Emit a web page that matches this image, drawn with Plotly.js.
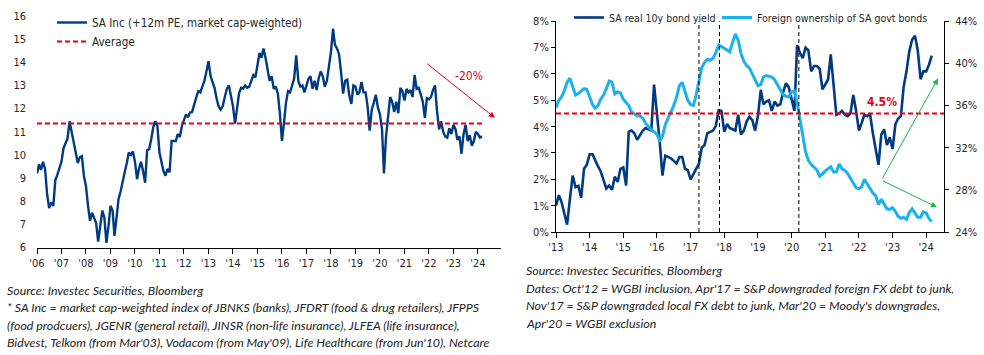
<!DOCTYPE html>
<html><head><meta charset="utf-8">
<script src="https://cdn.plot.ly/plotly-3.0.1.min.js"></script>
<style>html,body{margin:0;padding:0;background:#fff;}#chart{width:984px;height:355px;}</style>
</head><body><div id="chart"></div>
<script>
// ---------- DATA ----------
// Left chart: SA Inc 12m forward PE, monthly from Jan 2006
const peStartYear = 2006;
const peValues = [
  9.2, 9.6, 9.35, 9.7, 9.4, 8.3, 7.7, 7.95, 7.8, 8.9, 9.15, 9.45,          // 2006
  9.7, 10.3, 10.5, 10.7, 11.45, 11.0, 10.5, 10.2, 9.65, 9.9, 9.95, 9.1,    // 2007
  8.65, 7.8, 7.15, 7.5, 7.3, 7.05, 6.25, 6.95, 7.6, 7.3, 6.2, 6.9,         // 2008
  7.8, 7.6, 6.5, 7.3, 8.1, 8.43, 8.9, 9.25, 9.65, 10.1, 10.0, 10.15,       // 2009
  9.7, 8.95, 9.4, 9.7, 9.3, 8.8, 10.2, 10.25, 10.7, 11.2, 11.45, 11.25,    // 2010
  10.1, 9.6, 9.3, 9.1, 9.4, 9.25, 10.6, 10.6, 10.6, 10.9, 10.77, 11.25,    // 2011
  11.52, 11.75, 11.62, 11.84, 11.85, 12.2, 12.47, 12.75, 12.7, 12.95, 13.2, 13.6, // 2012
  14.05, 13.4, 13.15, 12.9, 12.45, 12.1, 11.95, 12.1, 12.5, 12.85, 13.0, 12.55,   // 2013
  12.1, 11.35, 12.1, 12.65, 12.9, 12.86, 13.0, 12.9, 12.95, 13.22, 13.45, 13.35,  // 2014
  13.9, 14.4, 14.2, 14.6, 14.2, 13.7, 13.2, 13.4, 12.85, 12.95, 12.65, 11.8,      // 2015
  10.6, 11.4, 12.25, 12.75, 12.7, 13.0, 13.3, 14.3, 13.2, 12.95, 13.0, 12.7,      // 2016
  13.05, 13.3, 13.4, 12.85, 13.2, 12.8, 13.3, 13.6, 13.4, 12.95, 13.2, 13.9,      // 2017
  14.45, 15.45, 14.75, 14.6, 14.35, 13.55, 12.65, 13.2, 13.25, 12.55, 12.2, 13.0, // 2018
  12.95, 12.6, 12.7, 13.15, 12.7, 12.7, 12.1, 11.05, 11.95, 12.25, 12.6, 12.05,   // 2019
  11.75, 11.1, 9.2, 10.8, 11.8, 12.5, 12.3, 11.85, 12.3, 11.8, 12.9, 12.75,       // 2020
  12.35, 12.85, 12.7, 12.8, 12.5, 13.45, 12.85, 12.9, 12.6, 12.3, 11.6, 12.45,    // 2021
  12.4, 12.5, 12.8, 13.0, 11.9, 11.1, 11.45, 11.0, 10.8, 10.75, 11.15, 10.9,      // 2022
  11.3, 11.1, 10.65, 10.8, 10.05, 10.9, 11.3, 10.6, 10.85, 10.4, 10.6, 11.0,      // 2023
  10.9, 10.75, 10.8                                                              // 2024
];
const peAverage = 11.36;
const leftYears = [2006,2007,2008,2009,2010,2011,2012,2013,2014,2015,2016,2017,2018,2019,2020,2021,2022,2023,2024];

// Right chart: monthly from Jan 2013
const bondStartYear = 2013;
const realYield = [
  1.0, 1.4, 1.15, 0.75, 0.28, 1.26, 2.14, 1.7, 1.75, 1.3, 2.4, 2.55,      // 2013
  2.95, 2.95, 2.7, 2.5, 2.3, 1.95, 1.65, 1.76, 1.6, 2.1, 1.9, 2.4,         // 2014
  2.45, 1.76, 3.8, 3.85, 3.75, 3.5, 3.7, 3.85, 3.95, 3.9, 3.85, 5.6,       // 2015
  4.6, 3.4, 2.14, 2.9, 2.85, 2.8, 2.7, 2.6, 2.85, 2.85, 2.4, 2.35,         // 2016
  2.0, 2.2, 2.35, 2.6, 3.2, 3.3, 3.75, 3.8, 3.85, 4.03, 4.62, 4.6,         // 2017
  3.8, 4.1, 3.95, 3.9, 3.85, 4.45, 3.7, 3.85, 4.2, 4.38, 4.25, 3.85,       // 2018
  4.4, 5.4, 4.85, 4.95, 5.0, 4.6, 4.95, 4.8, 4.85, 5.3, 5.65, 5.5,         // 2019
  5.1, 4.6, 7.1, 6.8, 6.6, 7.0, 6.9, 6.1, 6.3, 6.3, 6.2, 5.42,             // 2020
  5.6, 5.8, 6.74, 5.7, 4.45, 4.5, 4.6, 4.45, 4.4, 4.5, 5.2, 4.6,           // 2021
  3.85, 4.15, 4.45, 4.4, 4.5, 3.75, 3.15, 2.55, 3.7, 3.9, 3.3, 3.6,        // 2022
  3.15, 4.1, 4.3, 4.4, 5.5, 6.1, 6.85, 7.3, 7.45, 6.9, 5.8, 6.1,           // 2023
  6.1, 6.36, 6.7                                                          // 2024
];
const foreignOwnership = [
  35.8, 36.5, 36.8, 37.4, 38.2, 38.6, 37.8, 37.0, 37.15, 37.4, 37.6, 37.55,   // 2013
  36.85, 36.1, 35.75, 36.0, 36.6, 37.0, 37.6, 38.33, 38.2, 37.1, 37.3, 37.2,  // 2014
  36.6, 36.3, 36.0, 35.4, 35.2, 35.0, 35.0, 34.8, 34.3, 34.0, 33.7, 33.5,     // 2015
  33.3, 32.6, 33.1, 34.2, 34.8, 35.4, 36.0, 36.8, 37.9, 38.2, 37.2, 36.5,     // 2016
  36.1, 36.0, 37.0, 38.5, 39.6, 40.1, 40.4, 40.3, 40.5, 41.0, 41.75, 41.6,    // 2017
  41.4, 41.2, 41.1, 42.0, 42.8, 42.2, 40.95, 40.2, 39.8, 39.55, 39.0, 38.6,   // 2018
  37.9, 38.0, 38.7, 38.85, 38.8, 38.7, 38.45, 38.0, 37.5, 37.05, 36.9, 36.8,  // 2019
  37.3, 37.4, 36.3, 34.8, 33.4, 31.6, 30.8, 30.4, 30.15, 29.9, 29.3, 29.5,    // 2020
  29.8, 30.0, 30.2, 29.7, 29.7, 30.45, 30.0, 29.85, 29.55, 29.1, 28.6, 28.2,  // 2021
  28.1, 28.3, 29.0, 28.6, 28.2, 27.7, 27.46, 26.6, 27.1, 26.7, 26.2, 26.15,   // 2022
  26.3, 25.95, 25.5, 25.3, 25.4, 25.2, 25.85, 26.2, 25.8, 25.4, 25.4, 25.9,   // 2023
  25.8, 25.26, 25.0                                                          // 2024
];
const yieldAverage = 4.5;
const eventDates = ['2017-04-01', '2017-11-10', '2020-03-20'];
const rightYears = [2013,2014,2015,2016,2017,2018,2019,2020,2021,2022,2023,2024];

const leftSource = [
  "Source: Investec Securities, Bloomberg",
  "* SA Inc = market cap-weighted index of JBNKS (banks), JFDRT (food & drug retailers), JFPPS",
  "(food prodcuers), JGENR (general retail), JINSR (non-life insurance), JLFEA (life insurance),",
  "Bidvest, Telkom (from Mar'03), Vodacom (from May'09), Life Healthcare (from Jun'10), Netcare"
];
const rightSource = [
  "Source: Investec Securities, Bloomberg",
  "Dates: Oct'12 = WGBI inclusion, Apr'17 = S&P downgraded foreign FX debt to junk,",
  "Nov'17 = S&P downgraded local FX debt to junk, Mar'20 = Moody's downgrades,",
  "Apr'20 = WGBI exclusion"
];

// ---------- BUILD ----------
function monthDates(startYear, n) {
  const out = [];
  for (let i = 0; i < n; i++) {
    const y = startYear + Math.floor(i / 12);
    const m = (i % 12) + 1;
    out.push(y + '-' + (m < 10 ? '0' + m : m) + '-01');
  }
  return out;
}
const peDates = monthDates(peStartYear, peValues.length);
const bondDates = monthDates(bondStartYear, realYield.length);
const foreignDates = monthDates(bondStartYear, foreignOwnership.length);
const yrText = y => "'" + String(y).slice(2);

const NAVY = '#003A80';
const LIGHT = '#1AB2EE';
const RED = '#E3001B';
const GREEN = '#19B54A';
const FONT = "'DejaVu Sans Condensed', 'Liberation Sans', sans-serif";
const NOTEFONT = "Lato, 'Liberation Sans', sans-serif";
const W = 984, H = 355;
const px = v => v / W, py = v => 1 - v / H;

const traces = [
  {x: peDates, y: peValues, type: 'scatter', mode: 'lines', name: 'SA Inc (+12m PE, market cap-weighted)',
   line: {color: NAVY, width: 2.4}, xaxis: 'x', yaxis: 'y', legend: 'legend'},
  {x: [peDates[0], peDates[peDates.length - 1]], y: [peAverage, peAverage], type: 'scatter', mode: 'lines', name: 'Average',
   line: {color: RED, width: 2, dash: '5px,3px'}, xaxis: 'x', yaxis: 'y', legend: 'legend'},
  {x: bondDates, y: realYield, type: 'scatter', mode: 'lines', name: 'SA real 10y bond yield',
   line: {color: NAVY, width: 2.6}, xaxis: 'x2', yaxis: 'y2', legend: 'legend2'},
  {x: foreignDates, y: foreignOwnership, type: 'scatter', mode: 'lines', name: 'Foreign ownership of SA govt bonds',
   line: {color: LIGHT, width: 3}, xaxis: 'x2', yaxis: 'y3', legend: 'legend3'}
];

const shapes = [
  {type: 'line', xref: 'x2 domain', yref: 'y2', x0: 0, x1: 1, y0: yieldAverage, y1: yieldAverage,
   line: {color: RED, width: 2, dash: '5px,3px'}}
];
eventDates.forEach(d => shapes.push({type: 'line', xref: 'x2', yref: 'y2 domain', x0: d, x1: d, y0: 0, y1: 1,
  line: {color: '#000', width: 1, dash: '4px,3px'}}));

const annotations = [];
leftSource.forEach((t, i) => annotations.push({text: t, xref: 'paper', yref: 'paper', x: px(5), y: py(290.5 + i * 17.4),
  xanchor: 'left', yanchor: 'middle', showarrow: false, font: {family: NOTEFONT, size: 12.4, color: '#222', style: 'italic'}}));
rightSource.forEach((t, i) => annotations.push({text: t, xref: 'paper', yref: 'paper', x: px(524), y: py(270.5 + i * 17.6),
  xanchor: 'left', yanchor: 'middle', showarrow: false, font: {family: NOTEFONT, size: 12.4, color: '#222', style: 'italic'}}));
// left: -20% arrow
annotations.push({xref: 'x', yref: 'y', axref: 'x', ayref: 'y', x: '2024-09-10', y: 11.6, ax: '2021-11-13', ay: 13.99,
  text: '', showarrow: true, arrowhead: 2, arrowsize: 1.2, arrowwidth: 1, arrowcolor: RED});
annotations.push({xref: 'x', yref: 'y', x: '2023-08-18', y: 13.42, text: '-20%', showarrow: false,
  font: {family: FONT, size: 12, color: RED}});
// right: 4.5% label and green arrows
annotations.push({xref: 'x2', yref: 'y2', x: '2022-09-06', y: 4.92, text: '<b>4.5%</b>', showarrow: false,
  font: {family: FONT, size: 12, color: RED}});
annotations.push({xref: 'x2', yref: 'y2', axref: 'x2', ayref: 'y2', x: '2024-05-08', y: 5.83, ax: '2022-09-02', ay: 1.97,
  text: '', showarrow: true, arrowhead: 2, arrowsize: 1.2, arrowwidth: 1, arrowcolor: GREEN});
annotations.push({xref: 'x2', yref: 'y2', axref: 'x2', ayref: 'y2', x: '2024-04-27', y: 0.94, ax: '2022-09-02', ay: 1.97,
  text: '', showarrow: true, arrowhead: 2, arrowsize: 1.2, arrowwidth: 1, arrowcolor: GREEN});

const tickFont = {family: FONT, size: 11, color: '#262626'};
const legFont = {family: FONT, size: 10.5, color: '#262626'};
const layout = {
  width: W, height: H, margin: {l: 0, r: 0, t: 0, b: 0},
  paper_bgcolor: '#fff', plot_bgcolor: 'rgba(0,0,0,0)',
  font: {family: FONT, size: 11, color: '#262626'},
  xaxis: {domain: [px(37), px(501)], anchor: 'y', type: 'date', range: ['2006-01-01', '2024-12-10'],
    tickvals: leftYears.map(y => y + '-01-01'), ticktext: leftYears.map(yrText),
    ticks: 'outside', ticklen: 5, tickcolor: '#000', showline: true, linecolor: '#000', linewidth: 1,
    showgrid: false, zeroline: false, tickfont: tickFont, fixedrange: true},
  yaxis: {domain: [py(247.5), py(16)], anchor: 'x', range: [6, 16], dtick: 1, showgrid: false, zeroline: false,
    showline: false, ticks: '', ticklabelstandoff: 10, tickfont: tickFont},
  xaxis2: {domain: [px(556), px(944)], anchor: 'y2', type: 'date', range: ['2013-01-01', '2024-07-12'],
    tickvals: rightYears.map(y => y + '-01-01'), ticktext: rightYears.map(yrText),
    ticks: 'outside', ticklen: 5, tickcolor: '#000', showline: true, linecolor: '#000', linewidth: 1,
    showgrid: false, zeroline: false, tickfont: tickFont},
  yaxis2: {domain: [py(232), py(21.3)], anchor: 'x2', range: [0, 8], dtick: 1, ticksuffix: '%',
    showgrid: false, zeroline: false, showline: true, linecolor: '#000', ticks: 'outside', ticklen: 4, tickcolor: '#000',
    tickfont: tickFont},
  yaxis3: {overlaying: 'y2', anchor: 'x2', side: 'right', range: [24, 44], dtick: 4, ticksuffix: '%',
    showgrid: false, zeroline: false, showline: true, linecolor: '#000', ticks: 'outside', ticklen: 4, tickcolor: '#000',
    tickfont: tickFont, ticklabelstandoff: 4},
  legend: {x: px(52), y: py(8), xanchor: 'left', yanchor: 'top', bgcolor: 'rgba(0,0,0,0)', borderwidth: 0,
    font: {family: FONT, size: 11.6, color: '#262626'}, tracegroupgap: 0},
  legend2: {orientation: 'h', x: px(569), y: py(3), xanchor: 'left', yanchor: 'top', bgcolor: 'rgba(0,0,0,0)',
    font: legFont},
  legend3: {orientation: 'h', x: px(717), y: py(3), xanchor: 'left', yanchor: 'top', bgcolor: 'rgba(0,0,0,0)',
    font: legFont},
  shapes: shapes,
  annotations: annotations,
  showlegend: true
};

Plotly.newPlot('chart', traces, layout, {displayModeBar: false, staticPlot: true});
</script>
</body></html>
